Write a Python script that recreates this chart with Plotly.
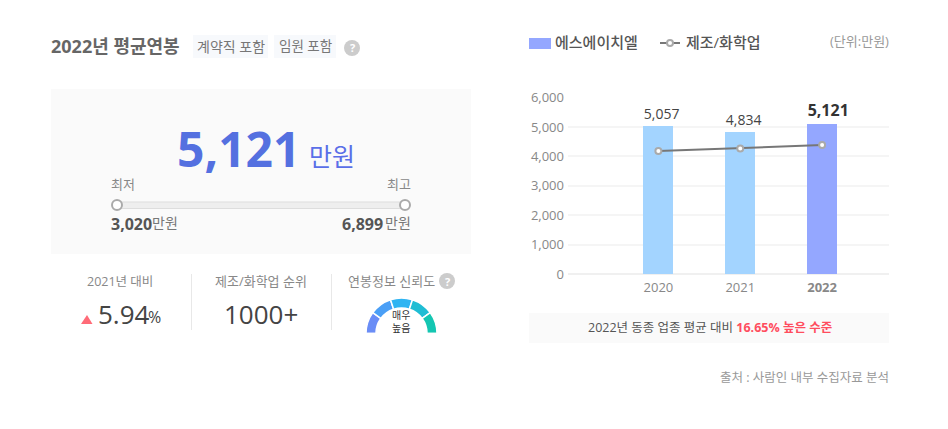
import plotly.graph_objects as go

W, H = 948, 429
FONT = "Open Sans, Noto Sans CJK KR"

years = ["2020", "2021", "2022"]
year_labels = ["2020", "2021", "<b>2022</b>"]
company_values = [5057, 4834, 5121]
company_labels = ["\u00a0\u00a05,057", "\u00a0\u00a04,834", "\u00a0\u00a0\u00a0<b>5,121</b>"]
industry_values = [4181, 4272, 4385]
y_ticks = [0, 1000, 2000, 3000, 4000, 5000, 6000]
gauge_values = [1, 1, 1, 1, 1, 5]
gauge_colors = ["#6a8df6", "#4a9ff6", "#2fb4f2", "#1fbdd4", "#14c6b2", "rgba(0,0,0,0)"]

def px(x):
    return x / W

def py(y):
    return 1 - y / H

annotations = []
shapes = []

def txt(x, y, text, size, color, anchor="left", bold=False, weight=None):
    font = dict(size=size, color=color, family=FONT)
    if weight:
        font["weight"] = weight
    annotations.append(dict(
        x=px(x), y=py(y), xref="paper", yref="paper", text=f"<b>{text}</b>" if bold else text,
        showarrow=False, xanchor=anchor, yanchor="middle", align=anchor,
        font=font, borderpad=0, borderwidth=0,
    ))

def rect(x0, y0, x1, y1, fill, line=None, width=0):
    shapes.append(dict(type="rect", xref="paper", yref="paper", x0=px(x0), x1=px(x1), y0=py(y0), y1=py(y1),
                       fillcolor=fill, line=dict(color=line or fill, width=width), layer="below"))

def circle(cx, cy, r, fill, line=None, width=0):
    shapes.append(dict(type="circle", xref="paper", yref="paper", x0=px(cx - r), x1=px(cx + r), y0=py(cy - r), y1=py(cy + r),
                       fillcolor=fill, line=dict(color=line or fill, width=width), layer="above"))

def seg(x0, y0, x1, y1, color, width=1):
    shapes.append(dict(type="line", xref="paper", yref="paper", x0=px(x0), x1=px(x1), y0=py(y0), y1=py(y1),
                       line=dict(color=color, width=width), layer="below"))

# left card
txt(51, 45.5, "2022년 평균연봉", 18, "#666666", bold=True)
rect(193, 35, 268, 58, "#f7f9fc")
rect(274, 35, 336, 58, "#f7f9fc")
txt(231, 46, "계약직 포함", 14, "#777777", "center")
txt(305.5, 46, "임원 포함", 13.5, "#777777", "center")
circle(352, 48, 8, "#cccccc")
txt(352, 48, "?", 11, "#ffffff", "center", bold=True)

rect(51, 89, 471, 254, "#fafafa")
txt(177, 148, "<b>5,121</b>", 48, "#5470e0")
txt(309, 156, "만원", 25, "#5a6fe8")
txt(111, 184, "최저", 13, "#888888")
txt(411, 184, "최고", 13, "#888888", "right")
rect(116, 202, 405, 208.5, "#eeeeee", "#dddddd", 1)
circle(117, 205, 5, "#ffffff", "#aaaaaa", 2)
circle(405, 205, 5, "#ffffff", "#aaaaaa", 2)
txt(111, 224, "3,020", 16, "#555555", bold=True)
txt(152, 222, "만원", 14, "#777777")
txt(383, 224, "6,899", 16, "#555555", "right", bold=True)
txt(411, 222, "만원", 14, "#777777", "right")

txt(120, 281, "2021년 대비", 12.5, "#888888", "center")
txt(261, 281, "제조/화학업 순위", 13, "#888888", "center")
txt(348, 281, "연봉정보 신뢰도", 13, "#888888")
circle(447, 281, 8, "#cccccc")
txt(447, 281, "?", 11, "#ffffff", "center", bold=True)
seg(191.5, 274, 191.5, 330, "#e8e8e8")
seg(331.5, 274, 331.5, 330, "#e8e8e8")
shapes.append(dict(type="path", xref="paper", yref="paper",
                   path=f"M {px(81)} {py(324)} L {px(92.5)} {py(324)} L {px(87)} {py(315)} Z",
                   fillcolor="#ff6b78", line=dict(width=0)))
txt(98, 314, "5.94", 26, "#444444")
txt(148, 317, "%", 16, "#444444")
txt(261, 314, "1000+", 26, "#444444", "center")
txt(401, 321, "매우<br>높음", 10, "#333333", "center")

# legend and notes of the right chart
rect(529, 38, 551, 49, "#94a7ff")
txt(555, 42, "에스에이치엘", 15, "#555555", weight=500)
seg(660, 43, 680, 43, "#777777", 2)
circle(670, 43, 3, "#ffffff", "#aaaaaa", 2)
txt(686, 42, "제조/화학업", 15, "#555555", weight=500)
txt(889, 41, "(단위:만원)", 13, "#999999", "right")
rect(529, 313, 889, 343, "#fafafa")
txt(709.5, 327, '2022년 동종 업종 평균 대비 <span style="color:#ff4d5e"><b>16.65% 높은 수준</b></span>', 12.5, "#555555", "center")
txt(889, 377, "출처 : 사람인 내부 수집자료 분석", 12.5, "#999999", "right")

fig = go.Figure()
fig.add_bar(
    x=years, y=company_values, width=0.366,
    marker=dict(color=["#a3d4ff", "#a3d4ff", "#94a7ff"], line=dict(width=0)),
    text=company_labels, textposition="outside", cliponaxis=False, constraintext="none",
    textfont=dict(size=[14, 14, 16], color=["#444444", "#444444", "#333333"], family=FONT),
    showlegend=False, hoverinfo="skip",
)
fig.add_scatter(
    x=years, y=industry_values, mode="lines+markers",
    line=dict(color="#777777", width=2),
    marker=dict(size=6, color="#ffffff", line=dict(color="#aaaaaa", width=2)),
    showlegend=False, hoverinfo="skip",
)
fig.add_pie(
    values=gauge_values, sort=False, direction="clockwise", rotation=270, hole=0.72,
    marker=dict(colors=gauge_colors, line=dict(color="#ffffff", width=1.5)),
    textinfo="none", showlegend=False, hoverinfo="skip",
    domain=dict(x=[px(366), px(437)], y=[py(369), py(298)]),
)

fig.update_layout(
    width=W, height=H, margin=dict(l=0, r=0, t=0, b=0, autoexpand=False),
    paper_bgcolor="#ffffff", plot_bgcolor="#ffffff",
    font=dict(family=FONT), bargap=0,
    annotations=annotations, shapes=shapes,
    xaxis=dict(domain=[px(568), px(889)], type="category", categoryorder="array", categoryarray=years,
               tickmode="array", tickvals=years, ticktext=year_labels, range=[-1.104, 2.817],
               tickfont=dict(size=13, color="#888888", family=FONT), ticklen=0, showgrid=False,
               showline=False, zeroline=False, ticklabelstandoff=4),
    yaxis=dict(domain=[py(274), py(97.6)], range=[0, 6000], tickvals=y_ticks, tickformat=",",
               tickfont=dict(size=13, color="#888888", family=FONT), ticklen=0,
               gridcolor="#f5f5f5", gridwidth=1.5, zeroline=True, zerolinecolor="#f0f0f0", zerolinewidth=1.5,
               showline=False, ticklabelstandoff=3),
)

fig.write_html("out.html", config=dict(displayModeBar=False),
               post_script="document.body.style.margin='0';document.body.style.overflow='hidden';")
